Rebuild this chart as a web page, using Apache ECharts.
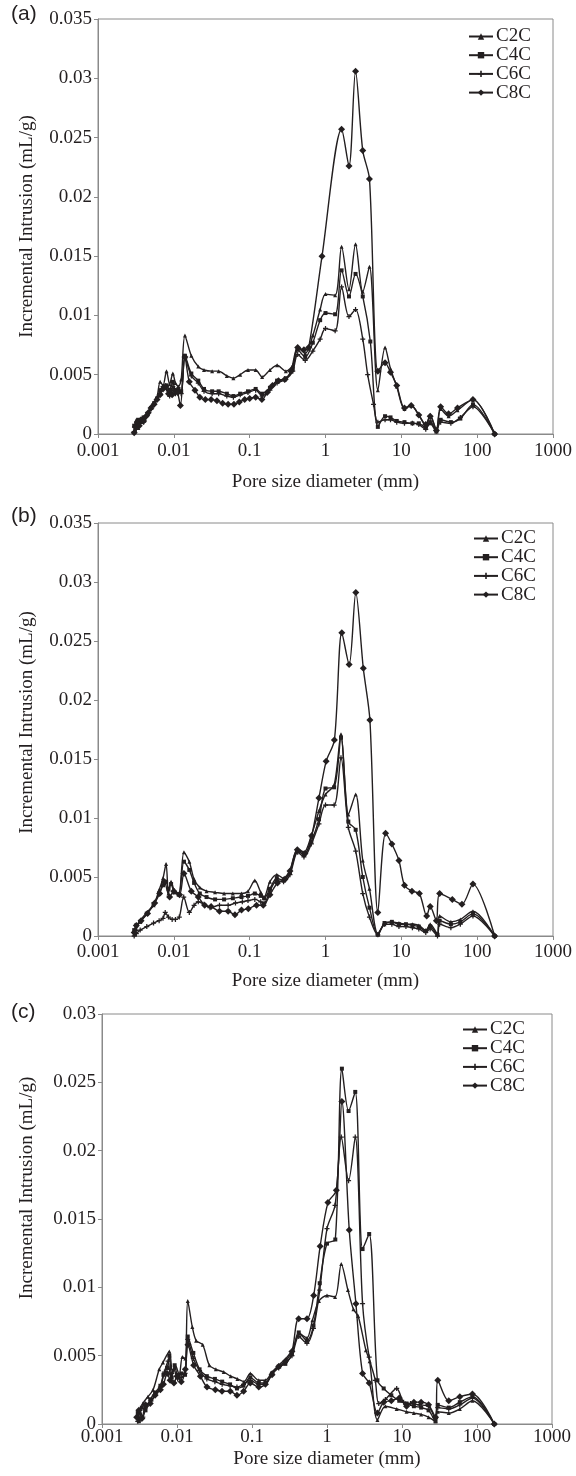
<!DOCTYPE html>
<html>
<head>
<meta charset="utf-8">
<script src="https://cdn.jsdelivr.net/npm/echarts@6/dist/echarts.min.js"></script>
<style type="text/css">
html, body { margin:0; padding:0; background:#fff; }
#chart { width:576px; height:1476px; }
</style>
</head>
<body>
<div id="chart"></div>
<script type="text/javascript">
// series names and axis ticks
var names = ['C2C', 'C4C', 'C6C', 'C8C'];
var xTicks = [0.001, 0.01, 0.1, 1, 10, 100, 1000];
var yMax = [0.035, 0.035, 0.03];

// (a) pore diameter (mm), incremental intrusion (mL/g)
var aC2C = [[0.003,0.0003],[0.0032,0.0012],[0.0034,0.0005],[0.0036,0.0012],[0.004,0.0013],[0.0045,0.0018],[0.005,0.0023],[0.0055,0.0027],[0.006,0.0031],[0.0066,0.0044],[0.0072,0.0041],[0.008,0.0053],[0.0088,0.0042],[0.0097,0.0051],[0.0105,0.0043],[0.0115,0.0040],[0.0125,0.0046],[0.014,0.0083],[0.017,0.0066],[0.021,0.0057],[0.025,0.0054],[0.032,0.0053],[0.039,0.0053],[0.05,0.0049],[0.061,0.0047],[0.075,0.0050],[0.095,0.0054],[0.12,0.0054],[0.146,0.0048],[0.185,0.0054],[0.23,0.0058],[0.3,0.0053],[0.37,0.0058],[0.43,0.0073],[0.54,0.0068],[0.68,0.0083],[0.85,0.0105],[1.0,0.0118],[1.34,0.0117],[1.63,0.0158],[2.04,0.0122],[2.49,0.0160],[3.1,0.0120],[3.8,0.0141],[4.9,0.0037],[6.1,0.0073],[7.2,0.0055],[8.7,0.0040],[11,0.0021],[13.5,0.0024],[17,0.0016],[21,0.0007],[24,0.0016],[29,0.0004],[33,0.0021],[42,0.0015],[55,0.0020],[88,0.0029],[170,0]];
var aC4C = [[0.003,0.0007],[0.0032,0.0009],[0.0034,0.0012],[0.0037,0.0010],[0.004,0.0014],[0.0045,0.0017],[0.005,0.0022],[0.0055,0.0026],[0.006,0.0030],[0.0066,0.0037],[0.0072,0.0039],[0.008,0.0041],[0.0088,0.0037],[0.0097,0.0044],[0.0105,0.0037],[0.0115,0.0038],[0.0125,0.0036],[0.014,0.0066],[0.017,0.0051],[0.021,0.0045],[0.025,0.0038],[0.032,0.0036],[0.039,0.0036],[0.05,0.0034],[0.061,0.0032],[0.075,0.0034],[0.095,0.0036],[0.12,0.0038],[0.146,0.0034],[0.185,0.0039],[0.23,0.0045],[0.3,0.0047],[0.37,0.0055],[0.43,0.0071],[0.54,0.0065],[0.68,0.0077],[0.85,0.0096],[1.0,0.0102],[1.34,0.0101],[1.63,0.0138],[2.04,0.0116],[2.49,0.0135],[3.1,0.0116],[3.9,0.0078],[4.9,0.0006],[6.1,0.0015],[7.2,0.0014],[8.7,0.0011],[11,0.0010],[14,0.0009],[17,0.0009],[21,0.0005],[24,0.0009],[29,0.0002],[33,0.0012],[45,0.0010],[60,0.0013],[88,0.0025],[170,0]];
var aC6C = [[0.003,0.0002],[0.0032,0.0004],[0.0034,0.0008],[0.0037,0.0011],[0.004,0.0010],[0.0045,0.0016],[0.005,0.0021],[0.0055,0.0025],[0.006,0.0029],[0.0066,0.0034],[0.0072,0.0040],[0.008,0.0038],[0.0088,0.0032],[0.0097,0.0040],[0.0105,0.0034],[0.0115,0.0036],[0.0125,0.0034],[0.014,0.0064],[0.017,0.0049],[0.021,0.0043],[0.025,0.0036],[0.032,0.0034],[0.039,0.0034],[0.05,0.0032],[0.061,0.0031],[0.075,0.0033],[0.095,0.0035],[0.12,0.0037],[0.146,0.0032],[0.185,0.0037],[0.23,0.0043],[0.3,0.0046],[0.37,0.0053],[0.43,0.0067],[0.54,0.0062],[0.68,0.0070],[0.85,0.0080],[1.0,0.0089],[1.34,0.0087],[1.63,0.0124],[2.04,0.0099],[2.49,0.0105],[3.1,0.0080],[3.6,0.0050],[4.3,0.0025],[4.9,0.0010],[6.1,0.0012],[7.2,0.0012],[8.7,0.0010],[11,0.0009],[14,0.0009],[17,0.0008],[21,0.0004],[24,0.0011],[29,0.0003],[33,0.0010],[45,0.0009],[60,0.0014],[88,0.0023],[170,0]];
var aC8C = [[0.003,0.0001],[0.0031,0.0006],[0.0033,0.0010],[0.0035,0.0007],[0.0037,0.0012],[0.004,0.0011],[0.0043,0.0015],[0.0046,0.0018],[0.005,0.0022],[0.0055,0.0025],[0.006,0.0029],[0.0066,0.0033],[0.0072,0.0038],[0.0078,0.0040],[0.0085,0.0034],[0.009,0.0037],[0.0095,0.0033],[0.0105,0.0036],[0.0112,0.0035],[0.0122,0.0024],[0.014,0.0065],[0.016,0.0044],[0.019,0.0037],[0.022,0.0031],[0.026,0.0029],[0.031,0.0029],[0.037,0.0028],[0.044,0.0026],[0.052,0.0025],[0.062,0.0025],[0.073,0.0027],[0.086,0.0029],[0.1,0.0030],[0.12,0.0031],[0.145,0.0029],[0.17,0.0035],[0.2,0.0041],[0.24,0.0045],[0.29,0.0046],[0.35,0.0053],[0.43,0.0073],[0.52,0.0071],[0.6,0.0073],[0.9,0.0150],[1.63,0.0257],[2.04,0.0226],[2.49,0.0306],[3.1,0.0239],[3.8,0.0215],[4.9,0.0053],[6.1,0.0060],[7.2,0.0052],[8.7,0.0041],[11,0.0022],[13.5,0.0024],[17,0.0016],[21,0.0008],[24,0.0015],[29,0.0003],[33,0.0023],[42,0.0017],[55,0.0022],[88,0.0029],[170,0]];

// (b)
var bC2C = [[0.003,0.0002],[0.0032,0.0006],[0.0036,0.0013],[0.0044,0.0020],[0.0054,0.0026],[0.0064,0.0039],[0.0072,0.0049],[0.0079,0.0061],[0.0085,0.0036],[0.0092,0.0046],[0.0101,0.0039],[0.0116,0.0036],[0.0136,0.0071],[0.016,0.0063],[0.0185,0.0048],[0.022,0.0041],[0.027,0.0038],[0.035,0.0037],[0.046,0.0036],[0.06,0.0036],[0.078,0.0036],[0.095,0.0038],[0.117,0.0047],[0.14,0.0037],[0.155,0.0033],[0.185,0.0046],[0.228,0.0052],[0.28,0.0049],[0.34,0.0056],[0.43,0.0074],[0.52,0.0071],[0.65,0.0085],[0.82,0.0106],[1.0,0.0120],[1.3,0.0128],[1.6,0.0171],[2.0,0.0103],[2.5,0.0120],[3.1,0.0064],[3.8,0.0040],[4.9,0.0002],[6.0,0.0010],[7.5,0.0012],[9.3,0.0011],[11.5,0.0010],[14,0.0010],[17,0.0009],[21,0.0005],[24,0.0010],[30,0.0002],[32,0.0017],[45,0.0012],[60,0.0014],[88,0.0021],[170,0]];
var bC4C = [[0.003,0.0005],[0.0032,0.0009],[0.0036,0.0012],[0.0044,0.0019],[0.0054,0.0027],[0.0064,0.0036],[0.0072,0.0043],[0.0079,0.0046],[0.0085,0.0040],[0.0092,0.0044],[0.0101,0.0037],[0.0116,0.0035],[0.0136,0.0063],[0.016,0.0056],[0.0185,0.0045],[0.022,0.0036],[0.027,0.0033],[0.035,0.0031],[0.046,0.0031],[0.06,0.0032],[0.078,0.0033],[0.095,0.0034],[0.117,0.0036],[0.14,0.0034],[0.155,0.0032],[0.185,0.0040],[0.228,0.0049],[0.28,0.0047],[0.34,0.0054],[0.43,0.0072],[0.52,0.0069],[0.65,0.0080],[0.82,0.0099],[1.0,0.0125],[1.3,0.0126],[1.6,0.0168],[2.0,0.0097],[2.5,0.0090],[3.1,0.0050],[3.8,0.0024],[4.9,0.0001],[6.0,0.0011],[7.5,0.0012],[9.3,0.0010],[11.5,0.0010],[14,0.0009],[17,0.0008],[21,0.0004],[24,0.0008],[30,0.0001],[32,0.0013],[45,0.0010],[60,0.0012],[88,0.0019],[170,0]];
var bC6C = [[0.003,0],[0.0032,0.0002],[0.0036,0.0005],[0.0044,0.0008],[0.0054,0.0011],[0.0064,0.0013],[0.0072,0.0015],[0.0077,0.0020],[0.0085,0.0016],[0.0095,0.0014],[0.0105,0.0014],[0.0118,0.0016],[0.0135,0.0033],[0.016,0.0020],[0.0185,0.0026],[0.021,0.0029],[0.025,0.0027],[0.03,0.0024],[0.04,0.0026],[0.052,0.0026],[0.065,0.0028],[0.08,0.0029],[0.095,0.0030],[0.117,0.0031],[0.14,0.0029],[0.155,0.0028],[0.185,0.0038],[0.228,0.0047],[0.28,0.0046],[0.34,0.0052],[0.43,0.0071],[0.52,0.0067],[0.65,0.0078],[0.82,0.0095],[1.0,0.0111],[1.3,0.0111],[1.6,0.0151],[2.0,0.0092],[2.5,0.0072],[3.1,0.0036],[3.8,0.0016],[4.9,0.0001],[6.0,0.0010],[7.5,0.0010],[9.3,0.0008],[11.5,0.0008],[14,0.0007],[17,0.0006],[21,0.0003],[24,0.0006],[30,0],[32,0.0010],[45,0.0007],[60,0.0010],[88,0.0017],[170,0]];
var bC8C = [[0.003,0.0003],[0.0032,0.0009],[0.0037,0.0013],[0.0045,0.0019],[0.0056,0.0028],[0.0065,0.0036],[0.0075,0.0046],[0.0088,0.0033],[0.01,0.0038],[0.0119,0.0035],[0.0136,0.0053],[0.017,0.0038],[0.021,0.0033],[0.0255,0.0026],[0.031,0.0025],[0.04,0.0021],[0.052,0.0021],[0.064,0.0018],[0.078,0.0022],[0.096,0.0023],[0.123,0.0026],[0.151,0.0026],[0.185,0.0035],[0.233,0.0045],[0.292,0.0048],[0.34,0.0055],[0.425,0.0073],[0.536,0.0070],[0.656,0.0085],[0.82,0.0117],[1.02,0.0148],[1.31,0.0166],[1.64,0.0257],[2.05,0.0230],[2.51,0.0291],[3.15,0.0227],[3.85,0.0183],[4.9,0.0020],[6.2,0.0087],[7.5,0.0078],[9.3,0.0064],[11,0.0043],[13.8,0.0038],[17.3,0.0036],[21.6,0.0017],[24,0.0025],[29,0.0013],[32,0.0036],[47,0.0031],[63,0.0027],[88,0.0044],[170,0]];

// (c)
var cC2C = [[0.003,0.0004],[0.0032,0.0009],[0.0035,0.0015],[0.0041,0.0020],[0.0048,0.0025],[0.0058,0.0040],[0.0065,0.0045],[0.0079,0.0053],[0.0087,0.0038],[0.0096,0.0042],[0.0107,0.0036],[0.0118,0.0049],[0.0129,0.0048],[0.0139,0.0090],[0.016,0.0071],[0.018,0.0061],[0.022,0.0058],[0.027,0.0043],[0.033,0.0040],[0.042,0.0038],[0.052,0.0035],[0.064,0.0033],[0.078,0.0031],[0.095,0.0037],[0.123,0.0032],[0.151,0.0032],[0.185,0.0038],[0.227,0.0043],[0.285,0.0048],[0.35,0.0055],[0.43,0.0066],[0.54,0.0063],[0.64,0.0076],[0.78,0.0090],[1.0,0.0094],[1.28,0.0093],[1.55,0.0117],[1.9,0.0098],[2.25,0.0084],[2.6,0.0079],[3.3,0.0054],[3.7,0.0046],[4.7,0.0003],[6.0,0.0013],[8.5,0.0011],[11.5,0.0009],[14.4,0.0008],[18,0.0007],[22.6,0.0005],[28,0.0002],[30,0.0009],[42,0.0008],[59,0.0011],[87,0.0017],[170,0]];
var cC4C = [[0.003,0.0008],[0.0031,0.0002],[0.0034,0.0012],[0.0038,0.0010],[0.0044,0.0018],[0.0051,0.0023],[0.006,0.0028],[0.0066,0.0036],[0.0074,0.0041],[0.0079,0.0050],[0.0085,0.0034],[0.0093,0.0043],[0.0102,0.0036],[0.0115,0.0037],[0.0128,0.0036],[0.0139,0.0064],[0.0165,0.0052],[0.02,0.0040],[0.025,0.0035],[0.032,0.0033],[0.04,0.0031],[0.051,0.0029],[0.063,0.0026],[0.077,0.0028],[0.095,0.0034],[0.123,0.0030],[0.151,0.0030],[0.185,0.0037],[0.227,0.0042],[0.278,0.0044],[0.341,0.0051],[0.42,0.0067],[0.54,0.0061],[0.66,0.0072],[0.8,0.0103],[1.0,0.0132],[1.29,0.0135],[1.58,0.0260],[1.94,0.0229],[2.38,0.0243],[2.98,0.0128],[3.65,0.0139],[4.7,0.0032],[5.7,0.0026],[7.2,0.0021],[9.2,0.0017],[11.5,0.0015],[14.4,0.0013],[18,0.0012],[22.6,0.0010],[28,0.0002],[30,0.0014],[42,0.0012],[59,0.0016],[87,0.0020],[170,0]];
var cC6C = [[0.003,0.0002],[0.0032,0.0010],[0.0035,0.0005],[0.0039,0.0013],[0.0045,0.0017],[0.0052,0.0022],[0.006,0.0027],[0.0068,0.0038],[0.0076,0.0046],[0.0082,0.0036],[0.0091,0.0040],[0.0102,0.0033],[0.0114,0.0034],[0.0128,0.0037],[0.0139,0.0062],[0.0165,0.0048],[0.02,0.0039],[0.025,0.0033],[0.032,0.0031],[0.04,0.0029],[0.051,0.0028],[0.063,0.0027],[0.077,0.0029],[0.095,0.0032],[0.123,0.0029],[0.151,0.0029],[0.185,0.0037],[0.227,0.0041],[0.278,0.0045],[0.341,0.0050],[0.42,0.0064],[0.54,0.0059],[0.66,0.0070],[0.8,0.0098],[1.0,0.0143],[1.28,0.0160],[1.55,0.0210],[1.94,0.0178],[2.38,0.0210],[2.98,0.0088],[3.65,0.0049],[4.4,0.0032],[4.9,0.0015],[6.0,0.0018],[8.5,0.0026],[10.5,0.0016],[13,0.0015],[17,0.0014],[22.6,0.0013],[28,0.0004],[30,0.0012],[42,0.0011],[59,0.0014],[87,0.0019],[170,0]];
var cC8C = [[0.0029,0.0005],[0.0031,0.0010],[0.0034,0.0004],[0.0038,0.0014],[0.0044,0.0015],[0.0051,0.0021],[0.006,0.0025],[0.0066,0.0029],[0.0074,0.0037],[0.0081,0.0032],[0.0091,0.0030],[0.01,0.0035],[0.0114,0.0031],[0.0129,0.0040],[0.014,0.0058],[0.0167,0.0043],[0.0205,0.0035],[0.0251,0.0027],[0.0324,0.0025],[0.0398,0.0024],[0.0513,0.0024],[0.063,0.0021],[0.0774,0.0024],[0.095,0.0030],[0.123,0.0027],[0.151,0.0029],[0.185,0.0036],[0.227,0.0042],[0.278,0.0046],[0.341,0.0053],[0.419,0.0077],[0.541,0.0077],[0.664,0.0094],[0.81,0.0130],[1.03,0.0162],[1.33,0.0171],[1.58,0.0236],[1.98,0.0142],[2.43,0.0088],[2.98,0.0037],[3.65,0.0030],[4.7,0.0008],[5.7,0.0016],[7.2,0.0017],[9.2,0.0019],[11.5,0.0013],[14.4,0.0016],[18,0.0016],[22.6,0.0014],[28,0.0005],[30,0.0032],[42,0.0017],[59,0.0020],[87,0.0022],[170,0]];

var panelData = [
    [aC2C, aC4C, aC6C, aC8C],
    [bC2C, bC4C, bC6C, bC8C],
    [cC2C, cC4C, cC6C, cC8C]
];

var ink = '#231f20';
var font = 'Liberation Serif';
var symbols = ['triangle', 'rect', 'path://M1.5,0H2.5V1.5H4V2.5H2.5V4H1.5V2.5H0V1.5H1.5Z', 'diamond'];
var symbolSizes = [4, 4, 5, 7];

// grid boxes: [left, top, width, height]
var boxes = [[98, 19, 455, 415], [98, 523, 455, 413], [102, 1014, 450, 410]];
var xLabelMargin = [8, 7, 4];
var xNameGap = [39, 36, 26];
var yNameGap = [61, 61, 65];
var yNameShift = [0, 14, 62];   // move the y title up the axis
var legendPos = [[468, 27], [473, 529], [462, 1020]];
var panelTags = ['(a)', '(b)', '(c)'];
var tagTop = [4, 506, 1002];

var myChart = echarts.init(document.getElementById('chart'), null, {renderer: 'canvas'});

var grids = [], xAxes = [], yAxes = [], legends = [], series = [], graphics = [];
for (var p = 0; p < 3; p++) {
    var b = boxes[p];
    grids.push({left: b[0], top: b[1], width: b[2], height: b[3],
        show: true, borderColor: '#8a8a8a', borderWidth: 1, backgroundColor: 'transparent'});
    xAxes.push({
        type: 'log', logBase: 10, gridIndex: p, min: xTicks[0], max: xTicks[xTicks.length - 1],
        name: 'Pore size diameter (mm)', nameLocation: 'middle', nameGap: xNameGap[p],
        nameTextStyle: {fontFamily: font, fontSize: 19, color: ink},
        axisLine: {lineStyle: {color: '#8a8a8a'}},
        axisTick: {length: 4, lineStyle: {color: '#8a8a8a'}},
        minorTick: {show: false},
        splitLine: {show: false},
        axisLabel: {fontFamily: font, fontSize: 19, color: ink, margin: xLabelMargin[p],
            formatter: function (v) { return String(+v.toPrecision(3)); }}
    });
    yAxes.push({
        type: 'value', gridIndex: p, min: 0, max: yMax[p], interval: 0.005,
        name: 'Incremental Intrusion (mL/g)', nameLocation: 'middle', nameGap: yNameGap[p],
        nameTextStyle: {fontFamily: font, fontSize: 19, color: ink, padding: [0, 0, 0, yNameShift[p]]},
        axisLine: {show: true, lineStyle: {color: '#8a8a8a'}},
        axisTick: {show: true, length: 4, lineStyle: {color: '#8a8a8a'}},
        splitLine: {show: false},
        axisLabel: {fontFamily: font, fontSize: 19, color: ink, margin: 6,
            formatter: function (v) { return String(+v.toFixed(3)); }}
    });
    legends.push({
        orient: 'vertical', left: legendPos[p][0], top: legendPos[p][1],
        itemWidth: 24, itemHeight: 8, itemGap: -0.3, padding: 0,
        textStyle: {fontFamily: font, fontSize: 19, color: ink, padding: [0, 0, 0, -2]},
        data: names, selectedMode: false
    });
    for (var s = 0; s < 4; s++) {
        series.push({
            name: names[s], type: 'line', xAxisIndex: p, yAxisIndex: p,
            data: panelData[p][s], smooth: 0.3,
            symbol: symbols[s], symbolSize: symbolSizes[s], showSymbol: true,
            lineStyle: {color: ink, width: 1.4},
            itemStyle: {color: ink, borderWidth: 0},
            emphasis: {disabled: true}, animation: false
        });
    }
    graphics.push({type: 'text', left: 11, top: tagTop[p],
        style: {text: panelTags[p], fontFamily: 'Liberation Sans', fontSize: 21, fill: ink}});
}

myChart.setOption({
    animation: false,
    backgroundColor: '#fff',
    grid: grids,
    xAxis: xAxes,
    yAxis: yAxes,
    legend: legends,
    series: series,
    graphic: graphics
});
</script>
</body>
</html>
